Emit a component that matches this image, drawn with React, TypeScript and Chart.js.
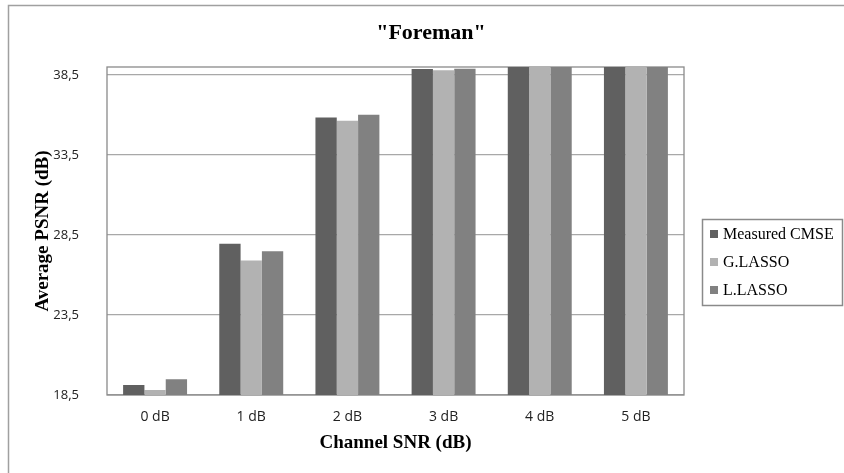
import React, { useEffect, useRef } from 'react';
import { Chart, registerables } from 'chart.js';

Chart.register(...registerables);

const categories = ['0 dB', '1 dB', '2 dB', '3 dB', '4 dB', '5 dB'];
const measuredCMSE = [19.12, 27.96, 35.85, 38.87, 39.05, 39.05];
const gLasso = [18.81, 26.9, 35.64, 38.8, 39.05, 39.05];
const lLasso = [19.48, 27.48, 36.02, 38.89, 39.05, 39.05];
const seriesLabels = ['Measured CMSE', 'G.LASSO', 'L.LASSO'];
const seriesColors = ['#606060', '#b2b2b2', '#818181'];
const yTicks = [18.5, 23.5, 28.5, 33.5, 38.5];
const yMin = 18.5;
const yMax = 39;
const chartTitle = '"Foreman"';
const xTitle = 'Channel SNR (dB)';
const yTitle = 'Average PSNR (dB)';

const SERIF = '"Liberation Serif", "Times New Roman", serif';
const SANS = '"Open Sans", "Liberation Sans", sans-serif';

const decorPlugin = {
  id: 'decor',
  beforeDraw(chart: any) {
    const ctx = chart.ctx;
    ctx.save();
    ctx.fillStyle = '#ffffff';
    ctx.fillRect(0, 0, chart.width, chart.height);
    ctx.strokeStyle = '#a0a0a0';
    ctx.lineWidth = 1.5;
    ctx.beginPath();
    ctx.moveTo(8.5, chart.height);
    ctx.lineTo(8.5, 5.5);
    ctx.lineTo(chart.width, 5.5);
    ctx.stroke();
    ctx.restore();
  },
  beforeDatasetsDraw(chart: any) {
    const { ctx, chartArea } = chart;
    ctx.save();
    ctx.strokeStyle = '#8a8a8a';
    ctx.lineWidth = 1.3;
    ctx.strokeRect(chartArea.left, chartArea.top, chartArea.right - chartArea.left, chartArea.bottom - chartArea.top);
    ctx.restore();
  },
  afterDraw(chart: any) {
    const ctx = chart.ctx;
    ctx.save();
    // title
    ctx.fillStyle = '#000';
    ctx.font = `bold 22px ${SERIF}`;
    ctx.textAlign = 'center';
    ctx.textBaseline = 'middle';
    ctx.fillText(chartTitle, 431, 33);
    // legend box
    ctx.strokeStyle = '#8a8a8a';
    ctx.lineWidth = 1.5;
    ctx.strokeRect(702.5, 219.5, 140, 86);
    ctx.font = `16px ${SERIF}`;
    ctx.textAlign = 'left';
    const ys = [234, 262, 290];
    chart.data.datasets.forEach((ds: any, i: number) => {
      ctx.fillStyle = ds.backgroundColor;
      ctx.fillRect(710, ys[i] - 4, 8, 8);
      ctx.fillStyle = '#000';
      ctx.fillText(ds.label, 723, ys[i] + 1);
    });
    ctx.restore();
  },
};

export default function App() {
  const ref = useRef<HTMLCanvasElement>(null);
  useEffect(() => {
    if (!ref.current) return;
    const seriesData = [measuredCMSE, gLasso, lLasso];
    const chart = new Chart(ref.current, {
      type: 'bar',
      data: {
        labels: categories,
        datasets: seriesLabels.map((label, i) => ({
          label,
          data: seriesData[i],
          backgroundColor: seriesColors[i],
          borderWidth: 0,
          categoryPercentage: 0.665,
          barPercentage: 1,
          clip: 0,
        })),
      },
      options: {
        responsive: false,
        animation: false,
        layout: { padding: { left: 0, right: 160, top: 67, bottom: 0 } },
        plugins: {
          legend: { display: false },
          title: { display: false },
          tooltip: { enabled: false },
        },
        scales: {
          x: {
            grid: { display: false, drawTicks: false },
            border: { display: false },
            ticks: {
              color: '#222',
              font: { family: SANS, size: 14 },
              padding: 14,
              maxRotation: 0,
            },
            title: {
              display: true,
              text: xTitle,
              color: '#000',
              font: { family: SERIF, size: 19, weight: 'bold' },
              padding: { top: 0, bottom: 18.6 },
            },
            afterFit: (scale: any) => {
              scale.height = 78;
            },
          },
          y: {
            min: yMin,
            max: yMax,
            grid: { color: '#a8a8a8', lineWidth: 1.3, drawTicks: false },
            border: { display: false },
            afterBuildTicks: (scale: any) => {
              scale.ticks = yTicks.map((v) => ({ value: v }));
            },
            ticks: {
              color: '#222',
              font: { family: SANS, size: 13 },
              padding: 28,
              callback: (v: any) => Number(v).toFixed(1).replace('.', ','),
            },
            title: {
              display: true,
              text: yTitle,
              color: '#000',
              font: { family: SERIF, size: 19, weight: 'bold' },
              padding: { top: 31.6, bottom: 0 },
            },
            afterFit: (scale: any) => {
              scale.width = 107;
            },
          },
        },
      },
      plugins: [decorPlugin],
    } as any);
    return () => chart.destroy();
  }, []);
  return (
    <div style={{ position: 'fixed', left: 0, top: 0, width: 844, height: 473, background: '#fff' }}>
      <canvas ref={ref} width={844} height={473} style={{ display: 'block', width: 844, height: 473 }} />
    </div>
  );
}
